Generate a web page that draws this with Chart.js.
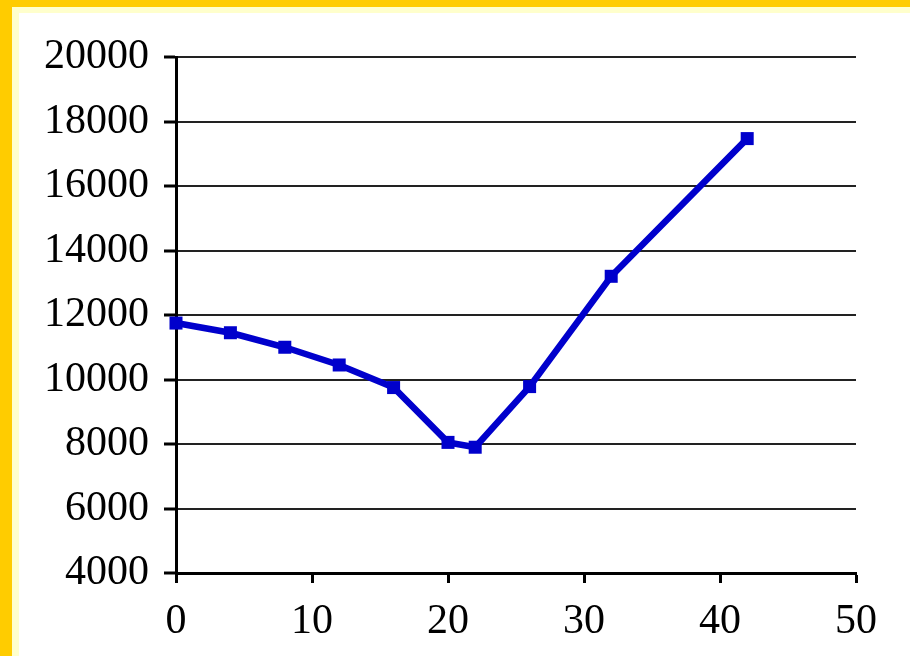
<!DOCTYPE html>
<html>
<head>
<meta charset="utf-8">
<script src="https://cdn.jsdelivr.net/npm/chart.js@4/dist/chart.umd.min.js"></script>
<style>
  html, body { margin: 0; padding: 0; background: #ffffff; }
  #wrap { position: absolute; left: 0; top: 0; width: 910px; height: 656px; }
</style>
</head>
<body>
<div id="wrap"><canvas id="c" width="910" height="656"></canvas></div>
<script>
// Data
const xValues = [0, 4, 8, 12, 16, 20, 22, 26, 32, 42];
const yValues = [11750, 11450, 11000, 10450, 9750, 8050, 7900, 9780, 13200, 17470];
const xTicks = [0, 10, 20, 30, 40, 50];
const yTicks = [4000, 6000, 8000, 10000, 12000, 14000, 16000, 18000, 20000];

const points = xValues.map((x, i) => ({ x: x, y: yValues[i] }));

const frame = {
  id: 'frame',
  beforeDraw(chart) {
    const ctx = chart.ctx;
    ctx.save();
    ctx.fillStyle = '#ffffff';
    ctx.fillRect(0, 0, chart.width, chart.height);
    ctx.fillStyle = '#FFCC00';
    ctx.fillRect(0, 0, chart.width, 7);
    ctx.fillRect(0, 0, 12, chart.height);
    ctx.fillStyle = '#FFFFCC';
    ctx.fillRect(12, 7, chart.width - 12, 6);
    ctx.fillRect(12, 7, 7, chart.height - 7);
    ctx.restore();
  }
};

const font = { family: "'Liberation Serif', 'Times New Roman', serif", size: 42 };

new Chart(document.getElementById('c'), {
  type: 'scatter',
  data: {
    datasets: [{
      data: points,
      showLine: true,
      borderColor: '#0000CC',
      backgroundColor: '#0000CC',
      borderWidth: 6.5,
      tension: 0,
      pointStyle: 'rect',
      pointRadius: 9.2,
      pointBorderWidth: 0,
      pointHoverRadius: 9.2,
      clip: false
    }]
  },
  plugins: [frame],
  options: {
    responsive: false,
    animation: false,
    events: [],
    layout: { padding: { left: 0, top: 57, right: 54, bottom: 0 } },
    plugins: { legend: { display: false }, tooltip: { enabled: false } },
    scales: {
      x: {
        type: 'linear',
        min: 0, max: 50,
        afterBuildTicks(scale) { scale.ticks = xTicks.map(v => ({ value: v })); },
        afterFit(scale) { scale.height = 83; },
        border: { display: true, color: '#000', width: 3 },
        grid: { drawOnChartArea: false, drawTicks: true, tickLength: 10, tickColor: '#000', tickWidth: 3 },
        ticks: { color: '#000', font: font, padding: 14, maxRotation: 0, autoSkip: false,
                 callback: (v) => String(v) }
      },
      y: {
        type: 'linear',
        min: 4000, max: 20000,
        afterBuildTicks(scale) { scale.ticks = yTicks.map(v => ({ value: v })); },
        afterFit(scale) { scale.width = 176; },
        border: { display: true, color: '#000', width: 3 },
        grid: { drawOnChartArea: true, color: '#222', lineWidth: 2, drawTicks: true, tickLength: 12, tickColor: '#000', tickWidth: 3 },
        ticks: { color: '#000', font: font, padding: 15, autoSkip: false,
                 callback: (v) => String(v) }
      }
    }
  }
});
</script>
</body>
</html>
